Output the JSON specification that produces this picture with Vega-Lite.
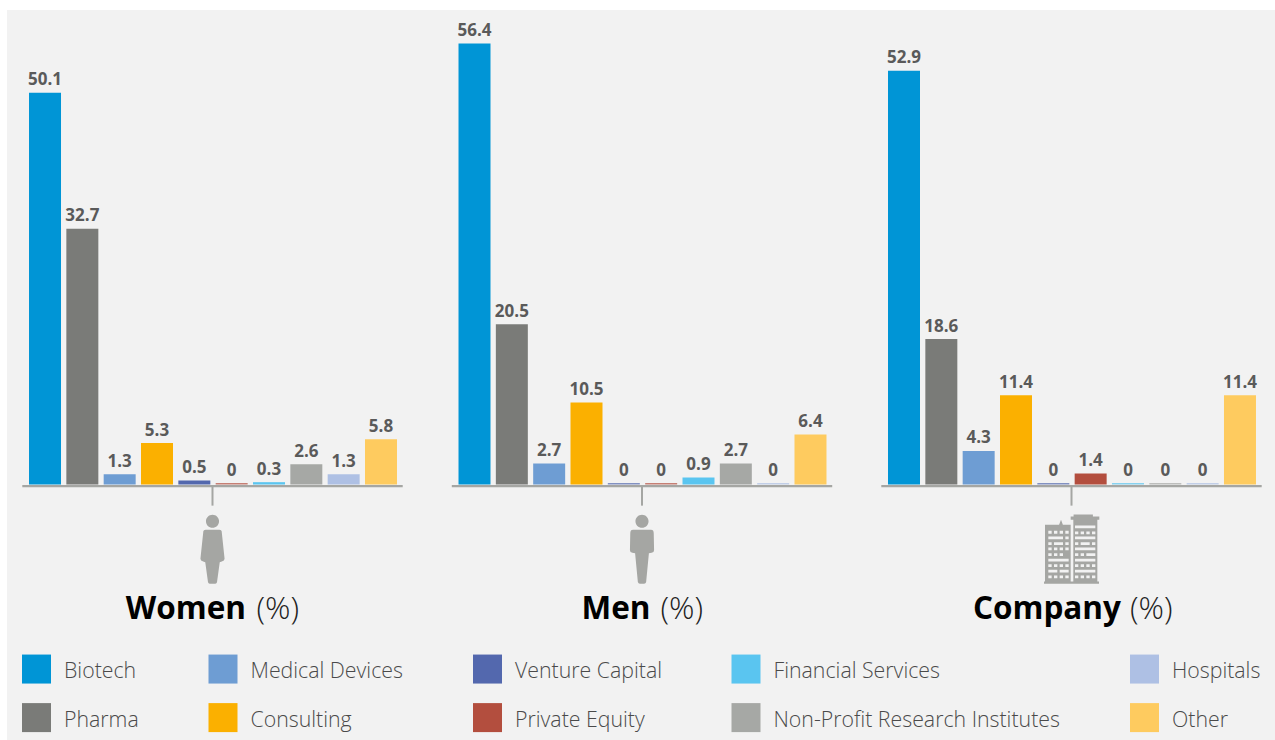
{
"$schema":"https://vega.github.io/schema/vega-lite/v6.json",
"width":1268,"height":730,
"autosize":{"type":"none"},
"padding":{"left":7,"top":10,"right":0,"bottom":0},
"background":"white",
"view":{"fill":"#f2f2f2","stroke":null},
"config":{"font":"Open Sans"},
"datasets":{
"bars":[
{"group":"Women","category":"Biotech","value":50.1},{"group":"Women","category":"Pharma","value":32.7},{"group":"Women","category":"Medical Devices","value":1.3},{"group":"Women","category":"Consulting","value":5.3},{"group":"Women","category":"Venture Capital","value":0.5},{"group":"Women","category":"Private Equity","value":0},{"group":"Women","category":"Financial Services","value":0.3},{"group":"Women","category":"Non-Profit Research Institutes","value":2.6},{"group":"Women","category":"Hospitals","value":1.3},{"group":"Women","category":"Other","value":5.8},
{"group":"Men","category":"Biotech","value":56.4},{"group":"Men","category":"Pharma","value":20.5},{"group":"Men","category":"Medical Devices","value":2.7},{"group":"Men","category":"Consulting","value":10.5},{"group":"Men","category":"Venture Capital","value":0},{"group":"Men","category":"Private Equity","value":0},{"group":"Men","category":"Financial Services","value":0.9},{"group":"Men","category":"Non-Profit Research Institutes","value":2.7},{"group":"Men","category":"Hospitals","value":0},{"group":"Men","category":"Other","value":6.4},
{"group":"Company","category":"Biotech","value":52.9},{"group":"Company","category":"Pharma","value":18.6},{"group":"Company","category":"Medical Devices","value":4.3},{"group":"Company","category":"Consulting","value":11.4},{"group":"Company","category":"Venture Capital","value":0},{"group":"Company","category":"Private Equity","value":1.4},{"group":"Company","category":"Financial Services","value":0},{"group":"Company","category":"Non-Profit Research Institutes","value":0},{"group":"Company","category":"Hospitals","value":0},{"group":"Company","category":"Other","value":11.4}
],
"panels":[{"group":"Women","unit":"(%)"},{"group":"Men","unit":"(%)"},{"group":"Company","unit":"(%)"}]
},
"encoding":{
"x":{"field":"group","type":"nominal","axis":null,"scale":{"domain":["Women","Men","Company"],"paddingInner":0.1143,"paddingOuter":0.0333,"align":0.535}}
},
"layer":[
{"data":{"name":"bars"},"transform":[{"filter":"datum.value > 0"}],"mark":{"type":"bar","cornerRadius":0},
"encoding":{
"xOffset":{"field":"category","type":"nominal","scale":{"domain":["Biotech","Pharma","Medical Devices","Consulting","Venture Capital","Private Equity","Financial Services","Non-Profit Research Institutes","Hospitals","Other"],"paddingInner":0.143,"paddingOuter":0.1665,"align":0.54}},
"y":{"field":"value","type":"quantitative","stack":null,"axis":null,"scale":{"domain":[-32.67,60.68],"nice":false,"zero":false}},
"color":{"field":"category","type":"nominal","scale":{"domain":["Biotech","Pharma","Medical Devices","Consulting","Venture Capital","Private Equity","Financial Services","Non-Profit Research Institutes","Hospitals","Other"],"range":["#0095d6","#7a7b78","#6e9dd3","#fbb000","#5368ae","#b34e3e","#5ac5f0","#a6a8a5","#aec0e4","#fecb5f"]},
"legend":{"title":null,"orient":"none","legendX":15,"legendY":647,"columns":5,"gridAlign":"each","columnPadding":69.5,"rowPadding":19,"symbolType":"M-1,-1.2 L1,-1.2 L1,.8 L-1,.8 Z","symbolSize":841,"symbolStrokeWidth":0,"symbolOpacity":1,"labelFont":"Open Sans","labelFontWeight":300,"labelFontSize":21.3,"labelColor":"#4a4a4a","labelOffset":13,"labelLimit":400,"padding":0}}
}},
{"data":{"name":"bars"},"transform":[{"filter":"datum.value == 0"}],"mark":{"type":"bar","opacity":0.7},
"encoding":{
"xOffset":{"field":"category","type":"nominal"},
"y":{"datum":0,"type":"quantitative"},"y2":{"datum":0.2},
"color":{"field":"category","type":"nominal","legend":null}
}},
{"data":{"name":"panels"},"mark":{"type":"bar","color":"#a5a6a3"},
"encoding":{"y":{"datum":-0.07,"type":"quantitative"},"y2":{"datum":-0.36}}},
{"data":{"name":"panels"},"mark":{"type":"rule","color":"#a5a6a3","strokeWidth":2},
"encoding":{"y":{"datum":-0.2,"type":"quantitative"},"y2":{"datum":-2.7}}},
{"data":{"name":"bars"},"transform":[{"filter":"datum.value > 0"}],"mark":{"type":"text","font":"Open Sans","fontWeight":"bold","fontSize":17,"color":"#5a5a5a","baseline":"alphabetic","dy":-7.5},
"encoding":{"xOffset":{"field":"category","type":"nominal"},"y":{"field":"value","type":"quantitative"},"text":{"field":"value","type":"quantitative","format":"~r"}}},
{"data":{"name":"bars"},"transform":[{"filter":"datum.value == 0"}],"mark":{"type":"text","font":"Open Sans","fontWeight":"bold","fontSize":17,"color":"#5a5a5a","baseline":"alphabetic","dy":-8.5},
"encoding":{"xOffset":{"field":"category","type":"nominal"},"y":{"datum":0,"type":"quantitative"},"text":{"field":"value","type":"quantitative","format":"~r"}}},
{"data":{"name":"panels"},"mark":{"type":"point","filled":true,"opacity":1,"color":"#a5a6a3","size":4761},
"encoding":{"y":{"datum":-8.27,"type":"quantitative"},
"shape":{"field":"group","type":"nominal","legend":null,"scale":{"domain":["Women","Men","Company"],"range":[
"M-.2,-.56 L.2,-.56 Q.27,-.56 .27,-.48 L.35,.28 Q.35,.34 .27,.36 L.21,.38 L.13,.96 Q.12,1 .08,1 L-.08,1 Q-.12,1 -.13,.96 L-.21,.38 L-.27,.36 Q-.35,.34 -.35,.28 L-.27,-.48 Q-.27,-.56 -.2,-.56 Z M-.19,-.81 A.19,.19 0 1 1 .19,-.81 A.19,.19 0 1 1 -.19,-.81 Z",
"M-.26,-.56 L.26,-.56 Q.34,-.56 .34,-.46 L.35,.03 Q.35,.1 .28,.1 L.2,.12 L.12,.95 Q.11,1 .06,1 L-.06,1 Q-.11,1 -.12,.95 L-.2,.12 L-.28,.1 Q-.35,.1 -.35,.03 L-.34,-.46 Q-.34,-.56 -.26,-.56 Z M-.19,-.81 A.19,.19 0 1 1 .19,-.81 A.19,.19 0 1 1 -.19,-.81 Z",
"M-.768,-.705 L-.36,-.705 L-.304,-.85 L-.25,-.705 L-.024,-.705 L-.024,.95 L-.768,.95 Z M.053,-.85 L.749,-.85 L.749,.95 L.053,.95 Z M-.024,-.947 L.06,-.947 L.06,-1.005 L.62,-1.005 L.62,-.947 L.807,-.947 L.807,-.85 L-.024,-.85 Z M-.797,.937 L.797,.937 L.797,1.005 L-.797,1.005 Z M-.672,-.531 v.08 h.097 v-.08 z M-.507,-.531 v.08 h.097 v-.08 z M-.343,-.531 v.08 h.097 v-.08 z M-.179,-.531 v.08 h.097 v-.08 z M-.672,-.367 v.08 h.426 v-.08 z M-.179,-.367 v.08 h.097 v-.08 z M-.672,-.203 v.08 h.097 v-.08 z M-.507,-.203 v.08 h.261 v-.08 z M-.179,-.203 v.08 h.097 v-.08 z M-.672,-.048 v.08 h.097 v-.08 z M-.507,-.048 v.08 h.097 v-.08 z M-.343,-.048 v.08 h.097 v-.08 z M-.179,-.048 v.08 h.097 v-.08 z M-.672,.116 v.08 h.097 v-.08 z M-.507,.116 v.08 h.097 v-.08 z M-.343,.116 v.08 h.097 v-.08 z M-.672,.28 v.08 h.59 v-.08 z M-.672,.435 v.08 h.097 v-.08 z M-.507,.435 v.08 h.097 v-.08 z M-.343,.435 v.08 h.097 v-.08 z M-.179,.435 v.08 h.097 v-.08 z M-.672,.599 v.08 h.261 v-.08 z M-.343,.599 v.08 h.261 v-.08 z M-.672,.763 v.08 h.097 v-.08 z M-.507,.763 v.08 h.097 v-.08 z M-.343,.763 v.08 h.097 v-.08 z M-.179,.763 v.08 h.097 v-.08 z M.101,-.686 v.08 h.59 v-.08 z M.101,-.512 v.08 h.097 v-.08 z M.266,-.512 v.08 h.097 v-.08 z M.43,-.512 v.08 h.097 v-.08 z M.594,-.512 v.08 h.097 v-.08 z M.101,-.367 v.08 h.59 v-.08 z M.101,-.203 v.08 h.097 v-.08 z M.266,-.203 v.08 h.261 v-.08 z M.594,-.203 v.08 h.097 v-.08 z M.101,-.048 v.08 h.59 v-.08 z M.101,.116 v.08 h.097 v-.08 z M.266,.116 v.08 h.097 v-.08 z M.43,.116 v.08 h.261 v-.08 z M.101,.28 v.08 h.59 v-.08 z M.101,.435 v.08 h.097 v-.08 z M.266,.435 v.08 h.097 v-.08 z M.43,.435 v.08 h.097 v-.08 z M.594,.435 v.08 h.097 v-.08 z M.101,.599 v.08 h.59 v-.08 z M.101,.763 v.08 h.097 v-.08 z M.266,.763 v.08 h.097 v-.08 z M.43,.763 v.08 h.097 v-.08 z M.594,.763 v.08 h.097 v-.08 z"
]}}}},
{"data":{"name":"panels"},"transform":[{"filter":"datum.group == 'Women'"}],"mark":{"type":"text","font":"Open Sans","fontWeight":"bold","fontSize":31.5,"color":"#000000","align":"right","baseline":"alphabetic","dx":33.5},"encoding":{"y":{"datum":-17.2,"type":"quantitative"},"text":{"field":"group"}}},
{"data":{"name":"panels"},"transform":[{"filter":"datum.group == 'Men'"}],"mark":{"type":"text","font":"Open Sans","fontWeight":"bold","fontSize":31.5,"color":"#000000","align":"right","baseline":"alphabetic","dx":8.5},"encoding":{"y":{"datum":-17.2,"type":"quantitative"},"text":{"field":"group"}}},
{"data":{"name":"panels"},"transform":[{"filter":"datum.group == 'Company'"}],"mark":{"type":"text","font":"Open Sans","fontWeight":"bold","fontSize":31.5,"color":"#000000","align":"right","baseline":"alphabetic","dx":49.5},"encoding":{"y":{"datum":-17.2,"type":"quantitative"},"text":{"field":"group"}}},
{"data":{"name":"panels"},"transform":[{"filter":"datum.group == 'Women'"}],"mark":{"type":"text","font":"Open Sans","fontWeight":300,"fontSize":31.5,"color":"#222222","align":"left","baseline":"alphabetic","dx":44},"encoding":{"y":{"datum":-17.2,"type":"quantitative"},"text":{"field":"unit"}}},
{"data":{"name":"panels"},"transform":[{"filter":"datum.group == 'Men'"}],"mark":{"type":"text","font":"Open Sans","fontWeight":300,"fontSize":31.5,"color":"#222222","align":"left","baseline":"alphabetic","dx":18.5},"encoding":{"y":{"datum":-17.2,"type":"quantitative"},"text":{"field":"unit"}}},
{"data":{"name":"panels"},"transform":[{"filter":"datum.group == 'Company'"}],"mark":{"type":"text","font":"Open Sans","fontWeight":300,"fontSize":31.5,"color":"#222222","align":"left","baseline":"alphabetic","dx":58.5},"encoding":{"y":{"datum":-17.2,"type":"quantitative"},"text":{"field":"unit"}}}
]
}
